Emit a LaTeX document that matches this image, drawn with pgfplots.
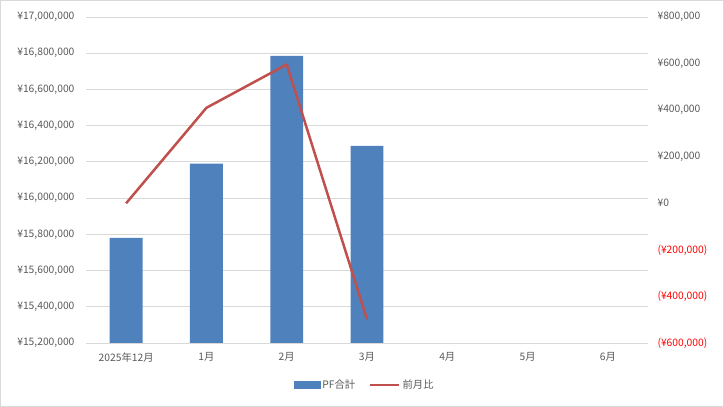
\documentclass[border=0pt]{standalone}
\usepackage{pgfplots}
\pgfplotsset{compat=1.18}
\usepackage{fontspec}
\setmainfont{Noto Sans CJK JP}
\definecolor{txt}{HTML}{595959}
\definecolor{grd}{HTML}{D9D9D9}
\definecolor{barc}{HTML}{4F81BD}
\definecolor{linec}{HTML}{C0504D}
\begin{document}
\begin{tikzpicture}[x=1pt,y=1pt]
\draw[grd] (0.5,0.5) rectangle (723.5,406.5);
\useasboundingbox (0,0) rectangle (724,407);
\pgfplotsset{every axis/.append style={scale only axis, width=562pt, height=326pt,
  xmin=-0.5, xmax=6.5, at={(86pt,64pt)}, anchor=south west,
  scaled y ticks=false, scaled x ticks=false,
  tick label style={font=\fontsize{10.3}{12}\selectfont, text=txt},
  major tick length=0pt}}
\begin{axis}[
  axis x line*=bottom, axis y line*=left,
  y axis line style={draw=none},
  x axis line style={draw=grd, line width=0.8pt},
  ymin=15200000, ymax=17000000,
  ytick={15200000,15400000,15600000,15800000,16000000,16200000,16400000,16600000,16800000,17000000},
  yticklabels={{¥15,200,000},{¥15,400,000},{¥15,600,000},{¥15,800,000},{¥16,000,000},{¥16,200,000},{¥16,400,000},{¥16,600,000},{¥16,800,000},{¥17,000,000}},
  ymajorgrids, grid style={grd, line width=0.8pt},
  xtick={0,1,2,3,4,5,6},
  xticklabels={2025年12月,1月,2月,3月,4月,5月,6月},
  xticklabel style={yshift=-6pt},
  yticklabel style={xshift=-8pt},
]
\addplot[ybar, bar width=0.41, fill=barc, draw=none, bar shift=0pt] coordinates {
(0,15780000) (1,16190000) (2,16786000) (3,16288000)};
\end{axis}
\begin{axis}[
  axis x line=none, axis y line*=right,
  y axis line style={draw=none},
  xtick=\empty,
  ymin=-600000, ymax=800000,
  ytick={-600000,-400000,-200000,0,200000,400000,600000,800000},
  yticklabels={{\color{red}(¥600,000)},{\color{red}(¥400,000)},{\color{red}(¥200,000)},{¥0},{¥200,000},{¥400,000},{¥600,000},{¥800,000}},
  yticklabel style={xshift=6pt},
  legend style={at={(0.496,-0.129)}, anchor=center, draw=none, fill=none,
    legend columns=2, font=\fontsize{10.3}{12}\selectfont, text=txt,
    /tikz/every even column/.append style={column sep=12pt}},
]
\addlegendimage{legend image code/.code={\fill[barc] (0pt,-3.5pt) rectangle (26pt,3.5pt);}}
\addlegendentry{PF合計}
\addplot[linec, line width=2.5pt, line join=round,
  legend image code/.code={\draw[linec, line width=2.5pt] (0pt,0pt) -- (29pt,0pt);}]
  coordinates {(0,0) (1,410000) (2,596000) (3,-498000)};
\addlegendentry{前月比}
\end{axis}
\end{tikzpicture}
\end{document}
